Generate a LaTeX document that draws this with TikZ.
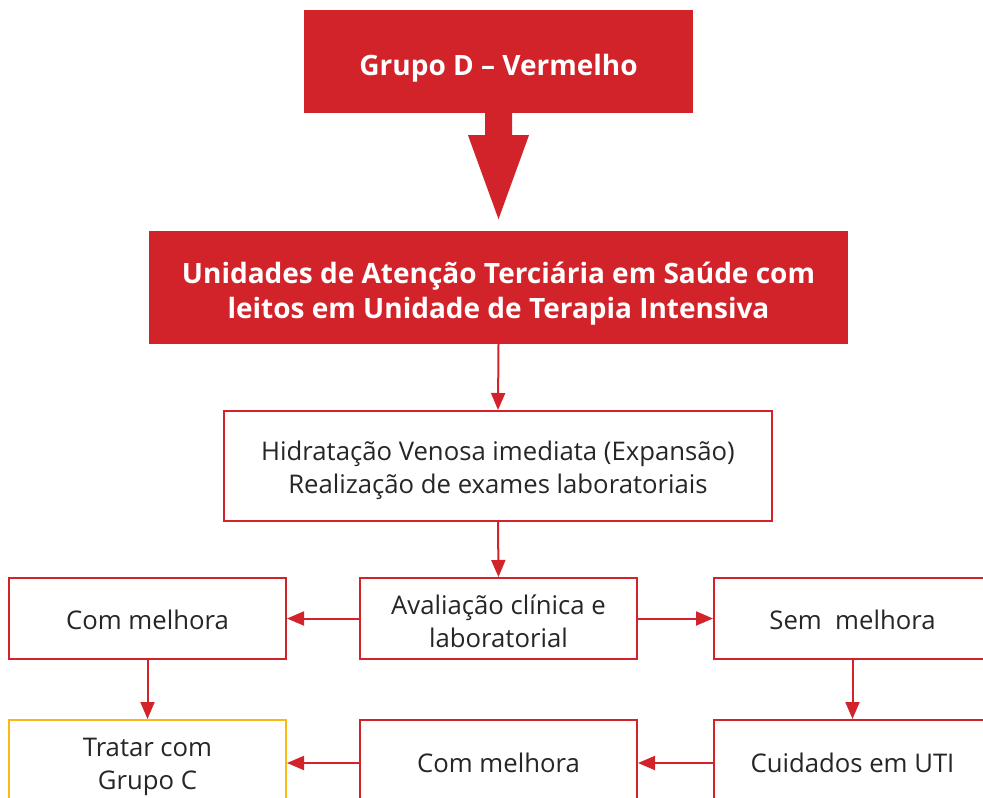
\documentclass[tikz,border=0pt]{standalone}
\usepackage{fontspec}
\setmainfont{Open Sans}
\usetikzlibrary{arrows.meta}
\definecolor{dred}{HTML}{D2232A}
\definecolor{dyel}{HTML}{FDB913}
\tikzset{
  redfill/.style={fill=dred, draw=none, inner sep=0pt},
  redtxt/.style={text=white, font=\fontsize{28}{35}\selectfont\bfseries, align=center, inner sep=0pt, yshift=-6.3pt},
  outbox/.style={draw=dred, line width=2pt, fill=white, inner sep=0pt},
  boxtxt/.style={text=black!85, font=\fontsize{25.7}{33}\selectfont, align=center, inner sep=0pt, yshift=-4.5pt},
  onetxt/.style={boxtxt, yshift=3pt},
  arr/.style={draw=dred, line width=2pt, -{Triangle[length=17pt,width=14pt]}, shorten >=0pt},
}
\begin{document}
\begin{tikzpicture}[x=1pt,y=-1pt]
\useasboundingbox (0,0) rectangle (983,798);
\clip (0,0) rectangle (983,798);
\node[redfill, minimum width=389pt, minimum height=103pt, label={[redtxt]center:Grupo D -- Vermelho}] (top) at (498.5,61.5) {};
\node[redfill, minimum width=699pt, minimum height=113pt, label={[redtxt]center:{Unidades de Atenção Terciária em Saúde com\\leitos em Unidade de Terapia Intensiva}}] (unid) at (498.5,287.5) {};
\node[outbox, minimum width=548pt, minimum height=110pt, label={[boxtxt]center:{Hidratação Venosa imediata (Expansão)\\Realização de exames laboratoriais}}] (hid) at (498,466) {};
\node[outbox, minimum width=277pt, minimum height=81pt, label={[boxtxt, yshift=2pt]center:{Avaliação clínica e\\laboratorial}}] (aval) at (498.5,618.5) {};
\node[outbox, minimum width=277pt, minimum height=81pt, label={[onetxt]center:Com melhora}] (cm1) at (147.5,618.5) {};
\node[outbox, minimum width=277pt, minimum height=81pt, label={[onetxt]center:Sem\ \ melhora}] (sem) at (852.5,618.5) {};
\node[outbox, draw=dyel, minimum width=277pt, minimum height=86pt, label={[boxtxt, yshift=1pt]center:{Tratar com\\Grupo C}}] (trat) at (147.5,763) {};
\node[outbox, minimum width=277pt, minimum height=86pt, label={[onetxt, yshift=2pt]center:Com melhora}] (cm2) at (498.5,763) {};
\node[outbox, minimum width=277pt, minimum height=86pt, label={[onetxt, yshift=2pt]center:Cuidados em UTI}] (cuid) at (852.5,763) {};
% big arrow
\coordinate (bt) at (top.south);
\fill[dred] ([xshift=-13.5pt]bt) -- ([xshift=-13.5pt,yshift=-22pt]bt) -- ([xshift=-30.5pt,yshift=-22pt]bt) -- ([yshift=-106pt]bt) -- ([xshift=30.5pt,yshift=-22pt]bt) -- ([xshift=13.5pt,yshift=-22pt]bt) -- ([xshift=13.5pt]bt) -- cycle;
\draw[arr] (unid.south) -- (hid.north);
\draw[arr] (hid.south) -- (aval.north);
\draw[arr] (aval.west) -- (cm1.east);
\draw[arr] (aval.east) -- (sem.west);
\draw[arr] (cm1.south) -- (trat.north);
\draw[arr] (sem.south) -- (cuid.north);
\draw[arr] (cuid.west) -- (cm2.east);
\draw[arr] (cm2.west) -- (trat.east);
\end{tikzpicture}
\end{document}
